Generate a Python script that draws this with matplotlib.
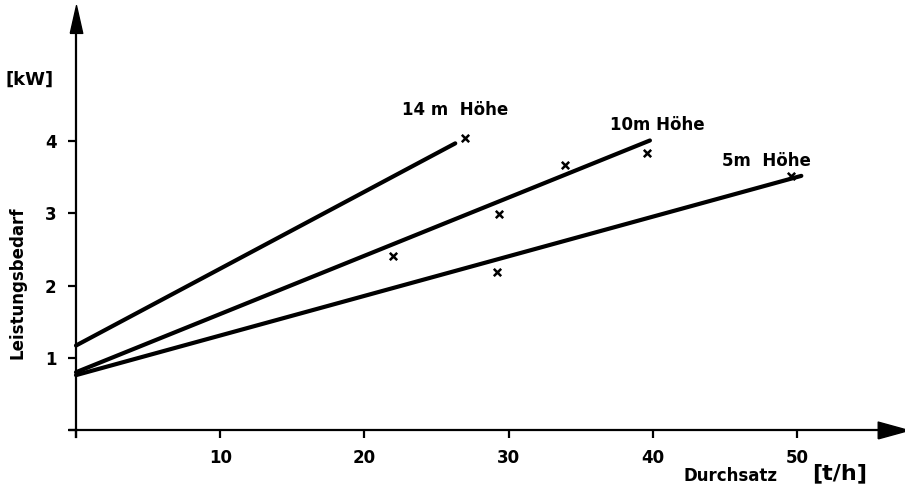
import matplotlib
matplotlib.use("Agg")
import matplotlib.pyplot as plt

# Data
line_labels = ["14 m  Höhe", "10m Höhe", "5m  Höhe"]
line_x0 = [0, 0, 0]
line_y0 = [1.17, 0.80, 0.76]
line_x1 = [26.3, 39.8, 50.3]
line_y1 = [3.97, 4.01, 3.52]

pts_x = [27.0, 22.0, 29.3, 33.9, 39.6, 29.2, 49.6]
pts_y = [4.04, 2.41, 2.99, 3.67, 3.84, 2.19, 3.52]

label_x = [26.3, 40.3, 47.9]
label_y = [4.43, 4.22, 3.72]

x_ticks = [0, 10, 20, 30, 40, 50]
x_ticklabels = ["", "10", "20", "30", "40", "50"]
y_ticks = [0, 1, 2, 3, 4]
y_ticklabels = ["", "1", "2", "3", "4"]

W, H = 905, 493
fig = plt.figure(figsize=(W / 100, H / 100), dpi=100)
x0px, y0px = 76, 430
xpx, ypx = 14.42, 72.2
right_px, top_px = 893, 19
ax = fig.add_axes([x0px / W, (H - y0px) / H, (right_px - x0px) / W, (y0px - top_px) / H])
ax.set_xlim(0, (right_px - x0px) / xpx)
ax.set_ylim(0, (y0px - top_px) / ypx)

for s in ["top", "right"]:
    ax.spines[s].set_visible(False)
for s in ["left", "bottom"]:
    ax.spines[s].set_linewidth(1.6)
    ax.spines[s].set_color("black")

# extend axes slightly beyond origin
ax.plot([0, 0], [-0.1, 0], color="black", lw=1.6, clip_on=False)
ax.plot([-0.4, 0], [0, 0], color="black", lw=1.6, clip_on=False)

# arrows (narrow, elongated triangles)
up_tri = [(-0.45, -1), (0.45, -1), (0, 1), (-0.45, -1)]
right_tri = [(-1, -0.55), (-1, 0.55), (1, 0), (-1, -0.55)]
ax.plot(0, 1, marker=up_tri, color="black", markersize=20, transform=ax.transAxes, clip_on=False)
ax.plot(1, 0, marker=right_tri, color="black", markersize=22, transform=ax.transAxes, clip_on=False)

ax.set_xticks(x_ticks)
ax.set_xticklabels(x_ticklabels)
ax.set_yticks(y_ticks)
ax.set_yticklabels(y_ticklabels)
ax.tick_params(axis="both", direction="out", length=6, width=1.6, labelsize=12, pad=8)
for lab in ax.get_xticklabels() + ax.get_yticklabels():
    lab.set_fontweight("bold")

for i in range(len(line_labels)):
    ax.plot([line_x0[i], line_x1[i]], [line_y0[i], line_y1[i]], color="black",
            lw=3.0, solid_capstyle="round", clip_on=False)
    ax.text(label_x[i], label_y[i], line_labels[i], ha="center", va="center",
            fontsize=12, fontweight="semibold")

ax.scatter(pts_x, pts_y, marker="x", color="black", s=28, linewidths=1.8, zorder=3)

fig.text(30 / W, 1 - 80 / H, "[kW]", ha="center", va="center", fontsize=13, fontweight="semibold")
fig.text(17 / W, 1 - 283 / H, "Leistungsbedarf", ha="center", va="center",
         rotation=90, fontsize=12, fontweight="semibold")
fig.text(730 / W, 1 - 476 / H, "Durchsatz", ha="center", va="center", fontsize=12, fontweight="semibold")
fig.text(840 / W, 1 - 473 / H, "[t/h]", ha="center", va="center", fontsize=16, fontweight="semibold")

fig.savefig("out.png", dpi=100)
